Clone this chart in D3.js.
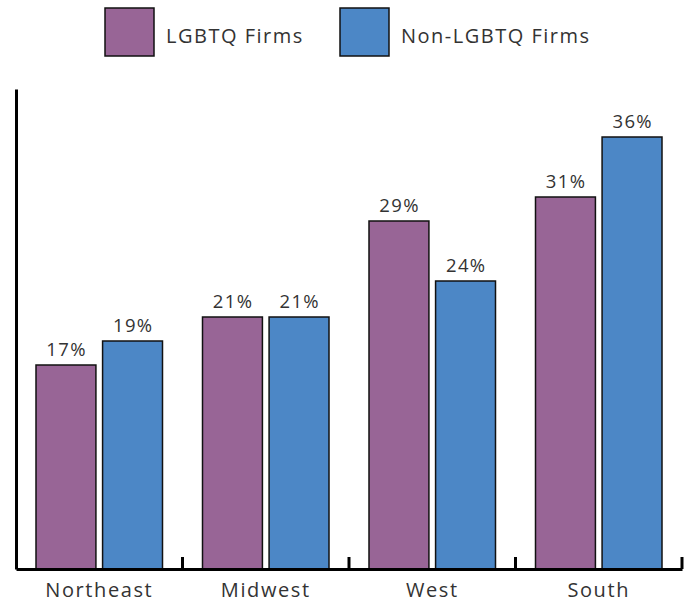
<!DOCTYPE html>
<html>
<head>
<meta charset="utf-8">
<script src="https://cdn.jsdelivr.net/npm/d3@7"></script>
<style>
  body { margin: 0; background: #fff; }
  text { font-family: "Open Sans", "DejaVu Sans", sans-serif; fill: #333; }
</style>
</head>
<body>
<div id="chart"></div>
<script>
// data
const regions = ['Northeast', 'Midwest', 'West', 'South'];
const seriesNames = ['LGBTQ Firms', 'Non-LGBTQ Firms'];
const lgbtqValues = [17, 21, 29, 31];
const nonLgbtqValues = [19, 21, 24, 36];
const colors = ['#986596', '#4c87c6'];

const width = 692, height = 604;
const margin = {left: 16, right: 10, top: 89, bottom: 35};

const svg = d3.select('#chart').append('svg')
    .attr('width', width)
    .attr('height', height);

const x0 = d3.scaleBand()
    .domain(regions)
    .range([margin.left, width - margin.right])
    .paddingInner(0);

const x1 = d3.scaleBand()
    .domain([0, 1])
    .range([20, x0.bandwidth() - 20])
    .paddingInner(0.1);

const y = d3.scaleLinear()
    .domain([0, 40])
    .range([height - margin.bottom, margin.top]);

const rows = regions.map((r, i) => ({region: r, values: [lgbtqValues[i], nonLgbtqValues[i]]}));

const groups = svg.selectAll('g.region')
    .data(rows)
    .enter().append('g')
    .attr('class', 'region')
    .attr('transform', d => `translate(${x0(d.region)},0)`);

groups.selectAll('rect')
    .data(d => d.values)
    .enter().append('rect')
    .attr('x', (d, i) => x1(i))
    .attr('y', d => y(d))
    .attr('width', x1.bandwidth())
    .attr('height', d => y(0) - y(d))
    .attr('fill', (d, i) => colors[i])
    .attr('stroke', '#111')
    .attr('stroke-width', 1.5);

groups.selectAll('text.val')
    .data(d => d.values)
    .enter().append('text')
    .attr('class', 'val')
    .attr('x', (d, i) => x1(i) + x1.bandwidth() / 2 + 0.7)
    .attr('y', d => y(d) - 9)
    .attr('text-anchor', 'middle')
    .style('font-size', '18.5px')
    .style('letter-spacing', '1.4px')
    .text(d => d + '%');

// axes
const yAxis = svg.append('g')
    .attr('transform', `translate(${margin.left},0)`)
    .call(d3.axisLeft(y).ticks(0).tickSize(0).tickFormat(''));
yAxis.select('.domain').attr('stroke', '#000').attr('stroke-width', 3);

const xAxis = svg.append('g')
    .attr('transform', `translate(0,${y(0)})`)
    .call(d3.axisBottom(x0).tickSize(0).tickPadding(14));
xAxis.select('.domain').attr('stroke', '#000').attr('stroke-width', 3);
xAxis.selectAll('text')
    .style('font-size', '20px')
    .style('letter-spacing', '1.6px')
    .attr('fill', '#333');

// boundary ticks pointing up
const bounds = regions.slice(1).map(r => x0(r)).concat([x0.range()[1]]);
xAxis.selectAll('line.bound')
    .data(bounds)
    .enter().append('line')
    .attr('class', 'bound')
    .attr('x1', d => d).attr('x2', d => d)
    .attr('y1', 0).attr('y2', -12)
    .attr('stroke', '#000')
    .attr('stroke-width', 3);

// legend
const legendX = [105, 340];
const legend = svg.selectAll('g.legend')
    .data(seriesNames)
    .enter().append('g')
    .attr('class', 'legend')
    .attr('transform', (d, i) => `translate(${legendX[i]},8)`);
legend.append('rect')
    .attr('width', 49).attr('height', 48)
    .attr('fill', (d, i) => colors[i])
    .attr('stroke', '#111').attr('stroke-width', 1.5);
legend.append('text')
    .attr('x', 61).attr('y', 35)
    .style('font-size', '20px')
    .style('letter-spacing', '1.5px')
    .text(d => d);
</script>
</body>
</html>
